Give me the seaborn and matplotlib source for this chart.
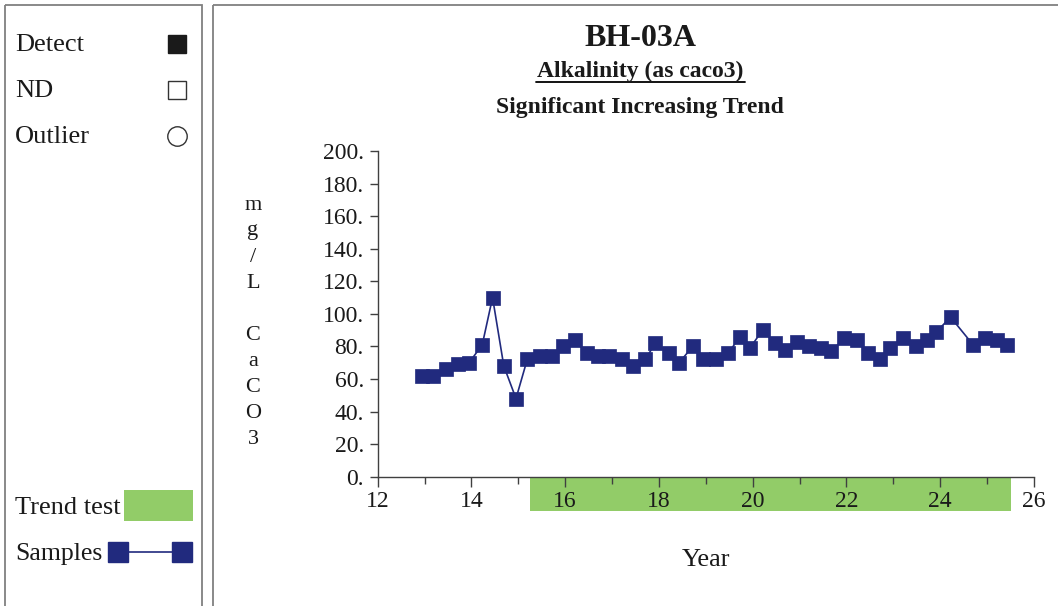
import pandas as pd
import matplotlib
matplotlib.use("Agg")
import matplotlib.pyplot as plt
import matplotlib.transforms as mtransforms
from matplotlib.patches import Rectangle
import seaborn as sns

# dados
years = [12.95, 13.19, 13.45, 13.71, 13.95, 14.23, 14.45, 14.69, 14.95, 15.19,
         15.46, 15.72, 15.95, 16.20, 16.46, 16.71, 16.94, 17.21, 17.44, 17.71,
         17.92, 18.21, 18.43, 18.72, 18.93, 19.22, 19.48, 19.73, 19.94, 20.21,
         20.47, 20.69, 20.94, 21.21, 21.45, 21.68, 21.95, 22.22, 22.45, 22.71,
         22.93, 23.21, 23.48, 23.71, 23.92, 24.22, 24.70, 24.95, 25.22, 25.42]
alkalinity = [62, 62, 66, 69, 70, 81, 110, 68, 48, 72,
              74, 74, 80, 84, 76, 74, 74, 72, 68, 72,
              82, 76, 70, 80, 72, 72, 76, 86, 79, 90,
              82, 78, 83, 80, 79, 77, 85, 84, 76, 72,
              79, 85, 80, 84, 89, 98, 81, 85, 84, 81]
trend_start = 15.25
trend_end = 25.5
x_ticks = [12, 14, 16, 18, 20, 22, 24, 26]
y_ticks = [0, 20, 40, 60, 80, 100, 120, 140, 160, 180, 200]
y_tick_labels = [f"{v}." for v in y_ticks]

well = "BH-03A"
analyte = "Alkalinity (as caco3)"
trend_text = "Significant Increasing Trend"
unit_label = "m\ng\n/\nL\n\nC\na\nC\nO\n3"

navy = "#212a7e"
green = "#92cc68"
border = "#808080"
ink = "#1a1a1a"

sns.set_theme(style="white")
plt.rcParams["font.family"] = ["Liberation Serif", "DejaVu Serif"]
plt.rcParams["text.color"] = ink
plt.rcParams["xtick.color"] = ink
plt.rcParams["ytick.color"] = ink

fig = plt.figure(figsize=(10.58, 6.06), dpi=100)

# fundo com os paineis (coordenadas em pixels)
bg = fig.add_axes([0, 0, 1, 1])
bg.set_xlim(0, 1058)
bg.set_ylim(606, 0)
bg.axis("off")
bg.add_patch(Rectangle((5, 5), 197, 620, fill=False, ec=border, lw=1.3, clip_on=False))
bg.add_patch(Rectangle((213, 5), 860, 620, fill=False, ec=border, lw=1.3, clip_on=False))

# legenda do lado esquerdo
leg_fs = 19
bg.text(15, 45, "Detect", fontsize=leg_fs, va="center")
bg.plot([177], [44], marker="s", ms=13, color="#1a1a1a")
bg.text(15, 91, "ND", fontsize=leg_fs, va="center")
bg.plot([177], [90], marker="s", ms=13, mfc="white", mec="#333333", mew=1)
bg.text(15, 137, "Outlier", fontsize=leg_fs, va="center")
bg.plot([177], [136], marker="o", ms=14, mfc="white", mec="#333333", mew=1)
bg.text(15, 508, "Trend test", fontsize=leg_fs, va="center")
bg.add_patch(Rectangle((124, 490), 69, 31, color=green, lw=0))
bg.text(15, 554, "Samples", fontsize=18.5, va="center")
bg.plot([118, 182], [552, 552], color=navy, lw=1.2, marker="s", ms=14.5)

# titulos
bg.text(640, 38, well, fontsize=23, fontweight="bold", ha="center", va="center")
bg.text(640, 71, analyte, fontsize=17, fontweight="bold", ha="center", va="center")
bg.text(640, 107, trend_text, fontsize=17, fontweight="bold", ha="center", va="center")
bg.plot([536, 745], [81.5, 81.5], color="black", lw=1.3)

# rotulo do eixo y empilhado
bg.text(253, 322, unit_label, fontsize=16, ha="center", va="center", linespacing=1.5)
bg.text(706, 560, "Year", fontsize=19, ha="center", va="center")

# grafico principal
ax = fig.add_axes([377.7 / 1058, 1 - 476.7 / 606, (1034 - 377.7) / 1058, (476.7 - 151) / 606])
df = pd.DataFrame({"Year": years, "Alkalinity": alkalinity})
sns.lineplot(data=df, x="Year", y="Alkalinity", ax=ax, color=navy, lw=1.2,
             marker="s", markersize=10.5, markeredgecolor=navy, markeredgewidth=0.5)

ax.set_xlim(12, 26)
ax.set_ylim(0, 200)
ax.set_xticks(x_ticks)
ax.set_xticks([13, 15, 17, 19, 21, 23, 25], minor=True)
ax.set_yticks(y_ticks)
ax.set_yticklabels(y_tick_labels)
ax.set_xlabel("")
ax.set_ylabel("")
ax.tick_params(axis="x", which="major", direction="out", length=7, width=1, color="#404040",
               labelsize=17, pad=3, bottom=True)
ax.tick_params(axis="x", which="minor", direction="out", length=5, width=1, color="#404040", bottom=True)
ax.tick_params(axis="y", direction="out", length=6, width=1, color="#404040", labelsize=17, pad=4, left=True)
for s in ["top", "right"]:
    ax.spines[s].set_visible(False)
for s in ["left", "bottom"]:
    ax.spines[s].set_color("#404040")
    ax.spines[s].set_linewidth(1)

# faixa do teste de tendencia abaixo do eixo
trans = mtransforms.blended_transform_factory(ax.transData, ax.transAxes)
ax.add_patch(Rectangle((trend_start, -0.105), trend_end - trend_start, 0.105,
                       transform=trans, color=green, lw=0, clip_on=False, zorder=0))

fig.savefig("out.png", dpi=100)
